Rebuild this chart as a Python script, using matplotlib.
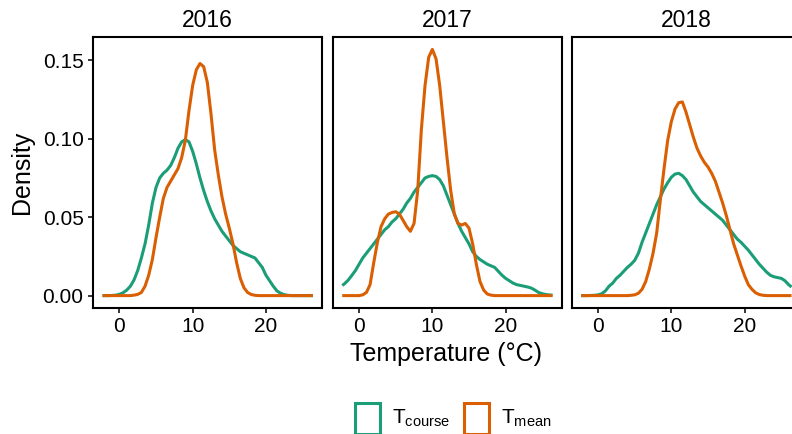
import matplotlib
matplotlib.use("Agg")
import matplotlib.pyplot as plt
from matplotlib.patches import Rectangle

plt.rcParams['font.family'] = ['Liberation Sans', 'DejaVu Sans']

W, H = 792, 434

years = ['2016', '2017', '2018']

temp = [-2.3, -2, -1.5, -1, -0.5, 0, 0.5, 1, 1.5, 2, 2.5, 3, 3.5, 4, 4.5, 5, 5.5, 6, 6.5,
        7, 7.5, 8, 8.5, 9, 9.5, 10, 10.5, 11, 11.5, 12, 12.5, 13, 13.5, 14, 14.5, 15, 15.5,
        16, 16.5, 17, 17.5, 18, 18.5, 19, 19.5, 20, 20.5, 21, 21.5, 22, 22.5, 23, 23.5, 24,
        24.5, 25, 25.5, 26, 26.4]

# density of T_course per year
course_2016 = [0, 0, 0, 0.0001, 0.0003, 0.0008, 0.0018, 0.0035, 0.006, 0.010, 0.016, 0.024,
               0.033, 0.045, 0.059, 0.069, 0.075, 0.078, 0.080, 0.083, 0.088, 0.094, 0.098,
               0.0995, 0.098, 0.092, 0.084, 0.075, 0.067, 0.060, 0.054, 0.049, 0.045, 0.041,
               0.038, 0.035, 0.032, 0.030, 0.028, 0.027, 0.026, 0.025, 0.024, 0.021, 0.018,
               0.013, 0.0095, 0.006, 0.003, 0.0015, 0.0006, 0.0002, 0, 0, 0, 0, 0, 0, 0]
course_2017 = [0.0065, 0.0075, 0.0098, 0.0128, 0.016, 0.020, 0.024, 0.027, 0.030, 0.033,
               0.036, 0.039, 0.042, 0.044, 0.047, 0.049, 0.052, 0.055, 0.059, 0.062, 0.066,
               0.069, 0.072, 0.075, 0.076, 0.0765, 0.076, 0.074, 0.070, 0.064, 0.058, 0.052,
               0.046, 0.041, 0.037, 0.033, 0.028, 0.025, 0.023, 0.0215, 0.020, 0.019, 0.018,
               0.0155, 0.013, 0.011, 0.0095, 0.008, 0.007, 0.0065, 0.006, 0.0055, 0.0048,
               0.0035, 0.002, 0.0012, 0.0007, 0.0004, 0.0003]
course_2018 = [0, 0, 0, 0.0001, 0.0002, 0.0005, 0.0012, 0.003, 0.006, 0.008, 0.011, 0.013,
               0.0155, 0.018, 0.020, 0.0225, 0.027, 0.034, 0.040, 0.046, 0.052, 0.058, 0.063,
               0.068, 0.072, 0.0755, 0.0775, 0.078, 0.0765, 0.074, 0.070, 0.066, 0.063, 0.060,
               0.058, 0.056, 0.054, 0.052, 0.050, 0.048, 0.045, 0.042, 0.039, 0.036, 0.034,
               0.0315, 0.029, 0.026, 0.023, 0.020, 0.0175, 0.015, 0.013, 0.012, 0.0115, 0.011,
               0.0095, 0.007, 0.0055]

# density of T_mean per year
mean_2016 = [0, 0, 0, 0, 0, 0, 0, 0, 0, 0.0003, 0.0008, 0.002, 0.006, 0.013, 0.023, 0.037,
             0.050, 0.062, 0.069, 0.073, 0.077, 0.081, 0.088, 0.099, 0.118, 0.134, 0.144,
             0.148, 0.146, 0.136, 0.116, 0.093, 0.077, 0.063, 0.052, 0.043, 0.033, 0.021,
             0.011, 0.005, 0.002, 0.0007, 0.0002, 0, 0, 0, 0, 0, 0, 0, 0, 0, 0, 0, 0, 0, 0,
             0, 0]
mean_2017 = [0, 0, 0, 0, 0, 0, 0.0005, 0.002, 0.007, 0.021, 0.034, 0.044, 0.049, 0.052,
             0.053, 0.0535, 0.052, 0.048, 0.044, 0.041, 0.046, 0.067, 0.106, 0.134, 0.152,
             0.157, 0.151, 0.134, 0.111, 0.088, 0.067, 0.052, 0.046, 0.045, 0.046, 0.043,
             0.033, 0.020, 0.009, 0.0035, 0.001, 0.0003, 0, 0, 0, 0, 0, 0, 0, 0, 0, 0, 0, 0,
             0, 0, 0, 0, 0]
mean_2018 = [0, 0, 0, 0, 0, 0, 0, 0, 0, 0, 0, 0, 0, 0, 0.0002, 0.0005, 0.0015, 0.004, 0.009,
             0.017, 0.027, 0.040, 0.061, 0.081, 0.099, 0.111, 0.119, 0.123, 0.1235, 0.117,
             0.109, 0.101, 0.094, 0.089, 0.085, 0.082, 0.078, 0.073, 0.066, 0.059, 0.051,
             0.042, 0.033, 0.026, 0.019, 0.0125, 0.007, 0.004, 0.0018, 0.0007, 0.0002, 0, 0,
             0, 0, 0, 0, 0, 0]

course = [course_2016, course_2017, course_2018]
mean = [mean_2016, mean_2017, mean_2018]

GREEN, ORANGE = '#1B9E77', '#D95F02'


def rect(x0, y0, x1, y1):
    return [x0 / W, 1 - y1 / H, (x1 - x0) / W, (y1 - y0) / H]


fig = plt.figure(figsize=(W / 100, H / 100), dpi=100)

lefts = [93, 332.7, 571.7]
for i, yr in enumerate(years):
    ax = fig.add_axes(rect(lefts[i], 37, lefts[i] + 229, 308))
    ax.plot(temp, course[i], color=GREEN, lw=2.2, solid_capstyle='butt')
    ax.plot(temp, mean[i], color=ORANGE, lw=2.2, solid_capstyle='butt')
    ax.set_xlim(-3.6, 27.65)
    ax.set_ylim(-0.0079, 0.1649)
    ax.set_xticks([0, 10, 20])
    ax.set_yticks([0, 0.05, 0.10, 0.15])
    for s in ax.spines.values():
        s.set_linewidth(1.5)
    ax.tick_params(length=3.8, width=1.1, labelsize=15, pad=3, colors='black')
    if i == 0:
        ax.set_yticklabels(['0.00', '0.05', '0.10', '0.15'])
    else:
        ax.set_yticklabels([])
        ax.tick_params(axis='y', length=0)
    fig.text((lefts[i] + 114.5) / W, 1 - 27 / H, yr, ha='center', va='baseline', fontsize=16.5)

fig.text(446.5 / W, 1 - 361 / H, 'Temperature (\u00b0C)', ha='center', va='baseline', fontsize=18)
fig.text(22 / W, 1 - 172 / H, 'Density', ha='center', va='center', rotation=90, fontsize=18)

# legend
keys = [(355, GREEN, r'$\mathregular{T_{course}}$'), (464, ORANGE, r'$\mathregular{T_{mean}}$')]
for x, c, lab in keys:
    fig.add_artist(Rectangle((x / W, 1 - 434 / H), 25 / W, 31.5 / H, transform=fig.transFigure,
                             fill=False, ec=c, lw=2.2))
    fig.text((x + 37) / W, 1 - 418 / H, lab, ha='left', va='center', fontsize=15)

fig.savefig('out.png', dpi=100)
